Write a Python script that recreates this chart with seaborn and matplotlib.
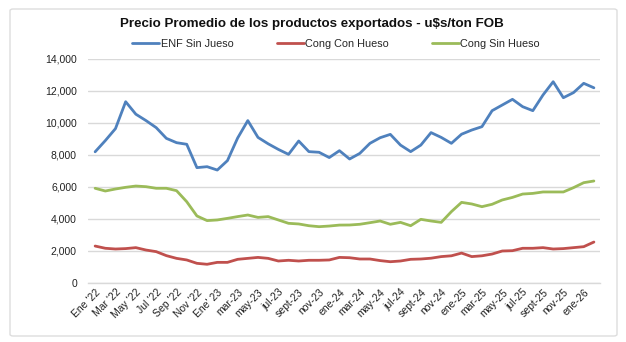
import matplotlib
matplotlib.use("Agg")
import matplotlib.pyplot as plt
import seaborn as sns
import pandas as pd
import numpy as np
from matplotlib.ticker import FuncFormatter
from matplotlib.lines import Line2D
from matplotlib.patches import FancyBboxPatch

title = "Precio Promedio de los productos exportados - u$s/ton FOB"
series_names = ["ENF Sin Jueso", "Cong Con Hueso", "Cong Sin Hueso"]

enf_sin_jueso = [8200, 8900, 9650, 11330, 10550, 10150, 9710, 9040, 8770, 8670,
                 7210, 7270, 7060, 7650, 9060, 10150, 9100, 8700, 8350, 8040,
                 8875, 8210, 8170, 7840, 8270, 7750, 8100, 8730, 9080, 9290,
                 8620, 8210, 8620, 9400, 9100, 8730, 9300, 9560, 9770, 10770,
                 11125, 11480, 11020, 10770, 11750, 12580, 11580, 11900, 12480, 12200]
cong_con_hueso = [2310, 2170, 2125, 2150, 2210, 2060, 1960, 1710, 1540, 1440,
                  1230, 1170, 1290, 1290, 1480, 1540, 1600, 1540, 1375, 1420,
                  1375, 1420, 1420, 1440, 1600, 1580, 1500, 1500, 1400, 1330,
                  1375, 1480, 1500, 1550, 1650, 1700, 1870, 1650, 1700, 1810,
                  2000, 2020, 2170, 2170, 2210, 2125, 2150, 2210, 2270, 2560]
cong_sin_hueso = [5920, 5750, 5875, 5980, 6060, 6020, 5920, 5920, 5770, 5080,
                  4190, 3900, 3940, 4040, 4150, 4250, 4100, 4150, 3940, 3730,
                  3690, 3580, 3520, 3560, 3620, 3625, 3670, 3770, 3875, 3670,
                  3790, 3580, 3980, 3875, 3790, 4460, 5040, 4940, 4770, 4920,
                  5190, 5350, 5560, 5600, 5690, 5690, 5690, 5960, 6270, 6375]

tick_labels = ["Ene '22", "Mar '22", "May '22", "Jul '22", "Sep '22", "Nov '22",
               "Ene' 23", "mar-23", "may-23", "jul-23", "sept-23", "nov-23",
               "ene-24", "mar-24", "may-24", "jul-24", "sept-24", "nov-24",
               "ene-25", "mar-25", "may-25", "jul-25", "sept-25", "nov-25", "ene-26"]

colors = ["#4F81BD", "#C0504D", "#9BBB59"]

n = len(enf_sin_jueso)
idx = np.arange(n)
df = pd.concat([
    pd.DataFrame({"mes": idx, "valor": vals, "serie": name})
    for name, vals in zip(series_names, [enf_sin_jueso, cong_con_hueso, cong_sin_hueso])
])

sns.set_theme(style="white")
plt.rcParams["font.family"] = ["Liberation Sans", "DejaVu Sans"]

fig = plt.figure(figsize=(6.26, 3.42), dpi=100)
ax = fig.add_axes([88/626, (342-283)/342, (600-88)/626, (283-59)/342])

sns.lineplot(data=df, x="mes", y="valor", hue="serie", hue_order=series_names,
             palette=colors, linewidth=2.0, ax=ax, legend=False)

ax.set_xlim(-0.7, n - 0.4)
ax.set_ylim(0, 14000)
ax.set_yticks(np.arange(0, 14001, 2000))
ax.yaxis.set_major_formatter(FuncFormatter(lambda v, p: f"{int(v):,}"))
ax.set_xticks(idx[::2])
ax.set_xticklabels(tick_labels, rotation=45, ha="right", rotation_mode="anchor",
                   fontsize=7.5, color="#222222")
ax.tick_params(axis="y", labelsize=7.5, colors="#222222", length=0, pad=8)
ax.tick_params(axis="x", length=0, pad=3)
ax.set_xlabel("")
ax.set_ylabel("")
ax.grid(axis="y", color="#d9d9d9", linewidth=1)
ax.grid(axis="x", visible=False)
for s in ["top", "right", "left"]:
    ax.spines[s].set_visible(False)
ax.spines["bottom"].set_color("#d9d9d9")
ax.spines["bottom"].set_linewidth(1)

fig.text(312/626, 1 - 24/342, title, ha="center", va="center",
         fontsize=9.6, fontweight="bold", color="#111111")

handles = [Line2D([0], [0], color=c, lw=2.0) for c in colors]
fig.legend(handles, series_names, loc="center", bbox_to_anchor=(336/626, 1 - 44/342),
           ncol=3, frameon=False, fontsize=7.8, handlelength=2.5, handletextpad=0.1,
           columnspacing=4.0)

border = FancyBboxPatch((10/626, 6/342), (617-10)/626, (333-6)/342,
                        boxstyle="round,pad=0,rounding_size=0.005",
                        transform=fig.transFigure, fill=False,
                        edgecolor="#dddddd", linewidth=1)
fig.patches.append(border)

fig.savefig("out.png", dpi=100)
